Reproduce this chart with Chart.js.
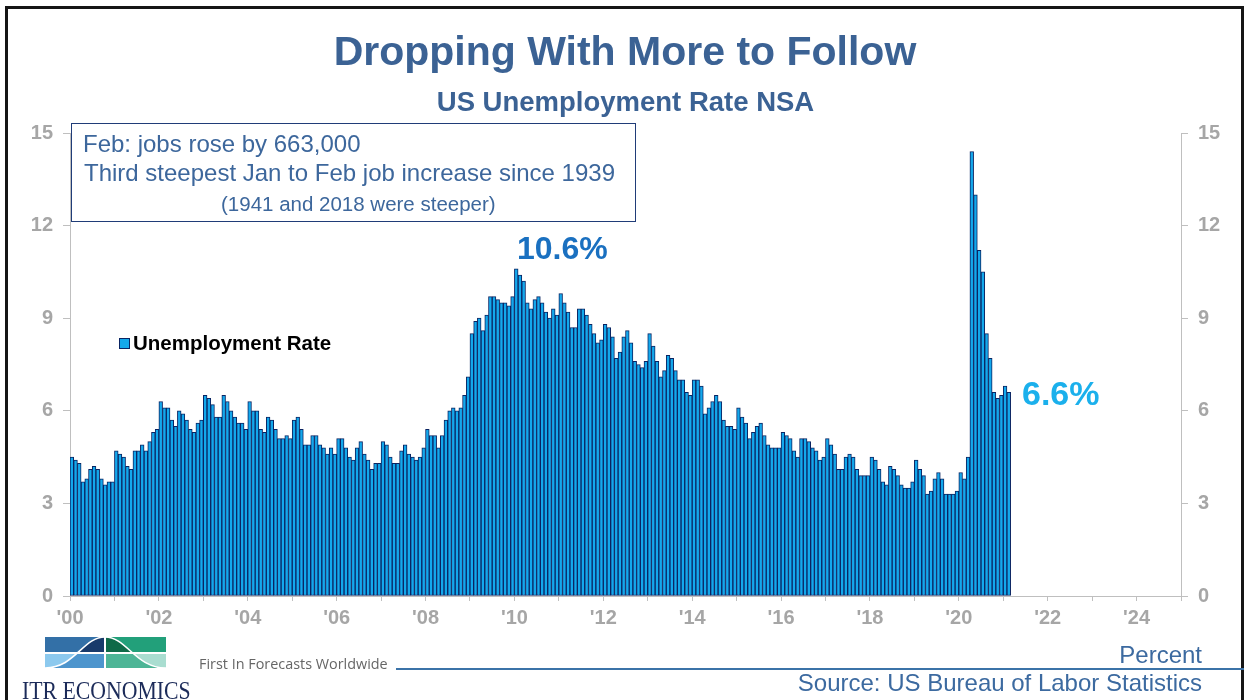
<!DOCTYPE html>
<html><head><meta charset="utf-8">
<script src="https://cdn.jsdelivr.net/npm/chart.js@4"></script>
<style>
html,body{margin:0;padding:0;background:#fff;}
body{width:1244px;height:700px;position:relative;overflow:hidden;font-family:"Liberation Sans",Arial,sans-serif;}
#c{position:absolute;left:0;top:0;}
.t{position:absolute;white-space:nowrap;line-height:1;}
#frame{position:absolute;left:5px;top:6px;width:1239px;height:720px;border:3px solid #151515;box-sizing:border-box;pointer-events:none;}
</style></head>
<body>
<canvas id="c" width="1244" height="700"></canvas>
<div id="frame"></div>
<div class="t" style="left:0;width:1250px;text-align:center;top:31px;font-size:41px;font-weight:bold;color:#3b6294;">Dropping With More to Follow</div>
<div class="t" style="left:0;width:1251px;text-align:center;top:88px;font-size:27.5px;font-weight:bold;color:#3b6294;">US Unemployment Rate NSA</div>
<div style="position:absolute;left:71px;top:123px;width:565px;height:99px;border:1.5px solid #203c78;box-sizing:border-box;"></div>
<div class="t" style="left:83px;top:131.5px;font-size:24px;color:#3d679c;">Feb: jobs rose by 663,000</div>
<div class="t" style="left:84px;top:161px;font-size:24px;color:#3d679c;">Third steepest Jan to Feb job increase since 1939</div>
<div class="t" style="left:221px;top:193.5px;font-size:20.5px;color:#3d679c;">(1941 and 2018 were steeper)</div>
<div id="legend" style="position:absolute;left:119px;top:332px;height:24px;"></div>
<div class="t" style="left:517px;top:232px;font-size:32px;font-weight:bold;color:#1a70c0;">10.6%</div>
<div class="t" style="left:1022px;top:376px;font-size:34px;font-weight:bold;color:#1bb0ec;">6.6%</div>
<svg style="position:absolute;left:45px;top:637px;" width="121" height="31" viewBox="0 0 121 31">
  <defs><clipPath id="bell"><path d="M0,31 C30,31 38,0 60,0 C82,0 90,31 121,31 Z"/></clipPath></defs>
  <rect x="0" y="0" width="59" height="15" fill="#3370a7"/>
  <rect x="61" y="0" width="60" height="15" fill="#22a07a"/>
  <rect x="0" y="17" width="59" height="14" fill="#8cc9ee"/>
  <rect x="61" y="17" width="60" height="14" fill="#a9ddd0"/>
  <g clip-path="url(#bell)">
    <rect x="0" y="0" width="59" height="15" fill="#183a6b"/>
    <rect x="61" y="0" width="60" height="15" fill="#0f6a48"/>
    <rect x="0" y="17" width="59" height="14" fill="#4d95cd"/>
    <rect x="61" y="17" width="60" height="14" fill="#4db596"/>
  </g>
  <path d="M0,31 C30,31 38,0 60,0 C82,0 90,31 121,31" fill="none" stroke="#fff" stroke-width="1.6"/>
</svg>
<div class="t" style="left:22px;top:678px;font-size:25px;font-family:'Liberation Serif','Times New Roman',serif;color:#1c2b59;transform:scaleX(0.87);transform-origin:0 0;">ITR ECONOMICS</div>
<div class="t" style="left:199px;top:657px;font-size:14.4px;font-family:'Open Sans',sans-serif;color:#666;">First In Forecasts Worldwide</div>
<div style="position:absolute;left:396px;top:667.5px;width:848px;height:2px;background:#3b73a8;"></div>
<div class="t" style="right:42px;top:643px;font-size:24px;color:#3c6aa0;">Percent</div>
<div class="t" style="right:42px;top:670.5px;font-size:24px;color:#3c6aa0;">Source: US Bureau of Labor Statistics</div>
<script>
// Monthly categories Jan 2000 .. Feb 2021
const startYear = 2000;
const yearLabels = ["'00","'02","'04","'06","'08","'10","'12","'14","'16","'18","'20","'22","'24"];
const rate2000 = [4.5,4.4,4.3,3.7,3.8,4.1,4.2,4.1,3.8,3.6,3.7,3.7];
const rate2001 = [4.7,4.6,4.5,4.2,4.1,4.7,4.7,4.9,4.7,5.0,5.3,5.4];
const rate2002 = [6.3,6.1,6.1,5.7,5.5,6.0,5.9,5.7,5.4,5.3,5.6,5.7];
const rate2003 = [6.5,6.4,6.2,5.8,5.8,6.5,6.3,6.0,5.8,5.6,5.6,5.4];
const rate2004 = [6.3,6.0,6.0,5.4,5.3,5.8,5.7,5.4,5.1,5.1,5.2,5.1];
const rate2005 = [5.7,5.8,5.4,4.9,4.9,5.2,5.2,4.9,4.8,4.6,4.8,4.6];
const rate2006 = [5.1,5.1,4.8,4.5,4.4,4.8,5.0,4.6,4.4,4.1,4.3,4.3];
const rate2007 = [5.0,4.9,4.5,4.3,4.3,4.7,4.9,4.6,4.5,4.4,4.5,4.8];
const rate2008 = [5.4,5.2,5.2,4.8,5.2,5.7,6.0,6.1,6.0,6.1,6.5,7.1];
const rate2009 = [8.5,8.9,9.0,8.6,9.1,9.7,9.7,9.6,9.5,9.5,9.4,9.7];
const rate2010 = [10.6,10.4,10.2,9.5,9.3,9.6,9.7,9.5,9.2,9.0,9.3,9.1];
const rate2011 = [9.8,9.5,9.2,8.7,8.7,9.3,9.3,9.1,8.8,8.5,8.2,8.3];
const rate2012 = [8.8,8.7,8.4,7.7,7.9,8.4,8.6,8.2,7.6,7.5,7.4,7.6];
const rate2013 = [8.5,8.1,7.6,7.1,7.3,7.8,7.7,7.3,7.0,7.0,6.6,6.5];
const rate2014 = [7.0,7.0,6.8,5.9,6.1,6.3,6.5,6.3,5.7,5.5,5.5,5.4];
const rate2015 = [6.1,5.8,5.6,5.1,5.3,5.5,5.6,5.2,4.9,4.8,4.8,4.8];
const rate2016 = [5.3,5.2,5.1,4.7,4.5,5.1,5.1,5.0,4.8,4.7,4.4,4.5];
const rate2017 = [5.1,4.9,4.6,4.1,4.1,4.5,4.6,4.5,4.1,3.9,3.9,3.9];
const rate2018 = [4.5,4.4,4.1,3.7,3.6,4.2,4.1,3.9,3.6,3.5,3.5,3.7];
const rate2019 = [4.4,4.1,3.9,3.3,3.4,3.8,4.0,3.8,3.3,3.3,3.3,3.4];
const rate2020 = [4.0,3.8,4.5,14.4,13.0,11.2,10.5,8.5,7.7,6.6,6.4,6.5];
const rate2021 = [6.8,6.6];
const yTicks = [0,3,6,9,12,15];
const seriesLabel = 'Unemployment Rate';

const values = [].concat(rate2000,rate2001,rate2002,rate2003,rate2004,rate2005,rate2006,rate2007,
  rate2008,rate2009,rate2010,rate2011,rate2012,rate2013,rate2014,rate2015,rate2016,rate2017,
  rate2018,rate2019,rate2020,rate2021);
const monthsShown = 300; // Jan 2000 .. Dec 2024 axis span
const points = values.map((v,i)=>({x:i+0.5,y:v}));

const FILL='#13a8ec', EDGE='#0a2462', GREY='#a6a6a6', AXIS='#bfbfbf';
const tickFont = {family:"'Liberation Sans', Arial, sans-serif", size:20, weight:'bold'};

const chart = new Chart(document.getElementById('c'), {
  type:'bar',
  data:{datasets:[{label:seriesLabel,data:points,backgroundColor:FILL,borderColor:EDGE,borderWidth:1,
    barPercentage:1,categoryPercentage:1,borderSkipped:false}]},
  options:{
    responsive:false,animation:false,devicePixelRatio:1,
    layout:{padding:{top:133,left:0,right:0,bottom:0}},
    plugins:{legend:{display:false},tooltip:{enabled:false}},
    scales:{
      x:{type:'linear',min:0,max:monthsShown,offset:false,
        grid:{display:true,drawOnChartArea:false,offset:false,tickLength:5,color:AXIS,lineWidth:1},
        border:{color:AXIS,width:1},
        ticks:{stepSize:12,autoSkip:false,maxRotation:0,padding:5,color:GREY,font:tickFont,
          callback:(v)=> (v%24===0 && yearLabels[v/24]!==undefined) ? yearLabels[v/24] : ''},
        afterFit:(s)=>{s.height=104;}},
      y:{position:'left',min:yTicks[0],max:yTicks[yTicks.length-1],
        grid:{drawOnChartArea:false,tickLength:7,color:AXIS},
        border:{color:AXIS,width:1},
        ticks:{stepSize:3,padding:10,color:GREY,font:tickFont},
        afterFit:(s)=>{s.width=70;}},
      y2:{position:'right',min:yTicks[0],max:yTicks[yTicks.length-1],
        grid:{drawOnChartArea:false,tickLength:7,color:AXIS},
        border:{color:AXIS,width:1},
        ticks:{stepSize:3,padding:10,color:GREY,font:tickFont},
        afterFit:(s)=>{s.width=63;}}
    }
  }
});
const ds = chart.data.datasets[0];
document.getElementById('legend').innerHTML =
  '<span style="position:absolute;left:0;top:6px;width:11px;height:11px;background:'+FILL+';border:1px solid '+EDGE+';box-sizing:border-box;"></span>'+
  '<span style="position:absolute;left:14px;top:1px;white-space:nowrap;line-height:1;font-size:20.5px;font-weight:bold;color:#000;">'+ds.label+'</span>';
</script>
</body></html>
